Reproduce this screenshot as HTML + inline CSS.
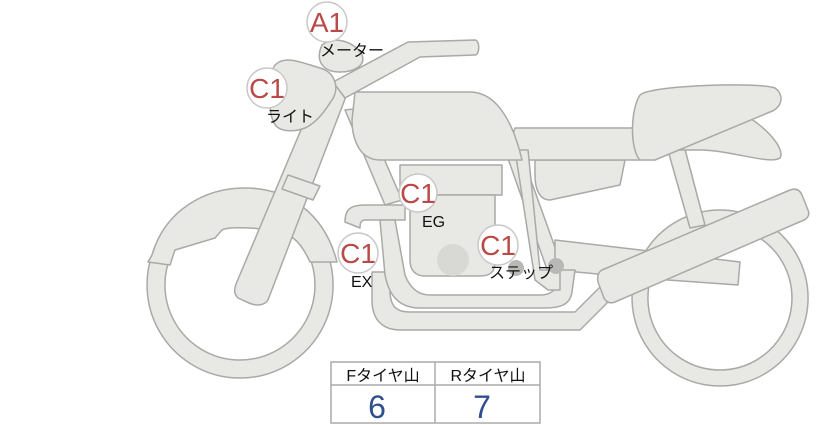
<!DOCTYPE html>
<html><head><meta charset="utf-8"><style>
html,body{margin:0;padding:0;background:#fff;width:822px;height:425px;overflow:hidden}
svg{position:absolute;left:0;top:0}
.p{fill:#e8e8e4;stroke:#a9a9a6;stroke-width:1.5;stroke-linejoin:round}
.t{font-family:"Liberation Sans","Noto Sans CJK JP",sans-serif}
</style></head><body>
<svg width="822" height="425" viewBox="0 0 822 425">
<!-- rear wheel -->
<path class="p" fill-rule="evenodd" d="M720,210a88,88 0 1,0 0.1,0Z M720,226a72,72 0 1,1 -0.1,0Z"/>
<!-- front wheel -->
<path class="p" fill-rule="evenodd" d="M240,192a93,93 0 1,0 0.1,0Z M240,210a75,75 0 1,1 -0.1,0Z"/>
<!-- front fender -->
<path class="p" d="M148,262 L152,255 C165,210 205,188 245,188 C290,188 325,215 337,262 L310,262 C300,240 290,232 270,230 C240,226 225,228 222,230 L215,238 L175,250 L170,265 Z"/>
<!-- frame rear tubes -->
<path class="p" d="M505,150 L520,150 L565,275 L550,278 Z"/>
<path class="p" d="M665,140 L682,138 L705,225 L690,228 Z"/>
<!-- rear fender under seat -->
<path class="p" d="M640,150 L745,115 C770,130 785,150 780,158 C770,165 730,150 700,150 Z"/>
<!-- side cover -->
<path class="p" d="M535,160 L625,160 L620,185 L550,200 C540,200 535,190 535,175 Z"/>
<!-- swingarm -->
<path class="p" d="M555,240 L640,250 L740,262 L738,285 L640,278 L555,270 Z"/>
<!-- seat -->
<path class="p" d="M515,128 L635,128 L640,160 L520,160 C512,150 512,135 515,128 Z"/>
<path class="p" d="M640,95 C650,85 760,82 775,88 C785,95 782,108 770,112 L655,160 L640,160 C630,150 630,110 640,95 Z"/>
<!-- exhaust pipes -->
<path class="p" d="M372,272 L372,300 C372,322 385,330 400,330 L580,330 L610,300 L602,285 L575,312 L410,312 C395,312 390,305 390,290 L390,272 Z"/>
<path class="p" d="M345,222 C345,208 352,205 365,205 L405,205 L405,220 L365,220 C360,220 360,225 360,228 Z"/>
<path class="p" d="M380,220 L395,220 L405,275 C410,288 418,295 430,295 L540,295 C555,295 560,285 560,270 L575,270 L572,292 C570,305 560,308 545,308 L420,308 C395,308 388,290 385,275 Z"/>
<!-- engine -->
<path class="p" d="M400,165 L502,165 L502,195 L400,195 Z"/>
<path class="p" d="M410,195 L495,195 L495,262 C495,272 490,276 480,276 L425,276 C415,276 410,270 410,260 Z"/>
<circle cx="453" cy="260" r="16" fill="#d8d8d5"/>
<!-- frame tubes -->
<path class="p" d="M345,110 L362,108 L402,200 L385,205 Z"/>
<path class="p" d="M515,150 L528,150 L540,270 L560,270 L560,290 L548,290 L535,280 Z"/>
<!-- tank -->
<path class="p" d="M355,92 L470,92 C500,92 515,130 522,160 L380,160 C360,160 352,140 352,120 Z"/>
<!-- fork -->
<path class="p" d="M322,80 L350,86 L268,300 C264,306 256,306 249,303 L238,298 C234,294 234,290 236,284 Z"/>
<path class="p" d="M288,175 L320,186 L313,200 L282,189 Z"/>
<!-- footsteps -->
<circle cx="516" cy="268" r="8" fill="#b8b8b5"/>
<circle cx="556" cy="266" r="8" fill="#b8b8b5"/>
<!-- muffler -->
<path class="p" d="M602,270 L790,190 C796,188 800,190 802,195 L808,210 C810,215 808,218 804,220 L615,302 C610,304 606,302 604,298 L598,282 C597,277 598,272 602,270 Z"/>
<!-- handlebar -->
<path class="p" d="M333,82 L408,42 L475,40 C480,40 480,55 475,55 L420,57 L345,98 Z"/>
<!-- meter -->
<path class="p" d="M322,45 C335,35 355,42 362,55 C366,65 355,72 340,72 C322,72 315,60 322,45 Z"/>
<!-- light -->
<path class="p" d="M275,65 C285,55 300,62 320,68 C335,72 340,88 332,100 C325,110 318,122 305,128 C295,132 282,132 276,126 C268,115 270,100 272,90 C270,80 270,72 275,65 Z"/>
<!-- labels -->
<g class="t">
<g fill="#fff" stroke="#c8c8c8" stroke-width="1.5">
<circle cx="327" cy="22" r="20"/><circle cx="267" cy="88" r="20"/><circle cx="418" cy="193" r="19"/><circle cx="358" cy="253" r="20"/><circle cx="498" cy="245" r="20"/>
</g>
<g fill="#b94a48" font-size="28" text-anchor="middle">
<text x="327" y="32">A1</text><text x="267" y="98">C1</text><text x="418" y="203">C1</text><text x="358" y="263">C1</text><text x="498" y="255">C1</text>
</g>
<g fill="#111" font-size="16">
<text x="320" y="56">メーター</text><text x="266" y="122">ライト</text><text x="422" y="227">EG</text><text x="351" y="287">EX</text><text x="489" y="278">ステップ</text>
</g>
</g>
<!-- table -->
<rect x="331" y="362" width="209" height="61" fill="#fff" stroke="#aaa" stroke-width="1.5"/>
<line x1="331" y1="385" x2="540" y2="385" stroke="#aaa" stroke-width="1.5"/>
<line x1="435" y1="362" x2="435" y2="423" stroke="#aaa" stroke-width="1.5"/>
<g class="t" text-anchor="middle">
<text x="383" y="381" font-size="16" fill="#111">Fタイヤ山</text>
<text x="488" y="381" font-size="16" fill="#111">Rタイヤ山</text>
<text x="377" y="418" font-size="32" fill="#2f4f8f">6</text>
<text x="482" y="418" font-size="32" fill="#2f4f8f">7</text>
</g>
</svg>
</body></html>
